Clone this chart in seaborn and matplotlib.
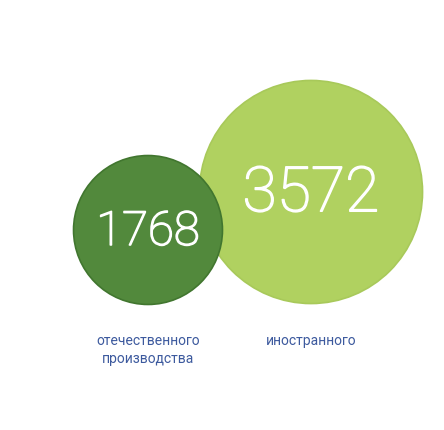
import numpy as np
import pandas as pd
import matplotlib.pyplot as plt
import matplotlib.patheffects as pe
import seaborn as sns

# data
categories = ['отечественного\nпроизводства', 'иностранного']
values = [1768, 3572]
colors = ['#52893c', '#b0d160']
edges = ['#41762f', '#a8c95a']

# layout (figure pixel coords, y down)
centers_x = [148, 311]
centers_y = [231, 193]
label_y = 334

df = pd.DataFrame({'cat': categories, 'value': values,
                   'x': centers_x, 'y': centers_y})

sns.set_style('white')
plt.rcParams['font.family'] = ['Roboto', 'DejaVu Sans']

fig = plt.figure(figsize=(4.44, 4.31), dpi=100)
ax = fig.add_axes([0, 0, 1, 1])

# bigger bubble first so the smaller one sits in front
order = df.sort_values('value', ascending=False)
sns.scatterplot(data=order, x='x', y='y', hue='cat', size='value',
                sizes=(11500, 25800), palette=dict(zip(categories, colors)),
                edgecolor=[edges[categories.index(c)] for c in order['cat']],
                linewidth=1.2, alpha=1, legend=False, ax=ax)

for i, row in df.iterrows():
    fs = 34 if row['value'] == min(values) else 45
    ax.text(row['x'], row['y'] + 2, str(row['value']), color='white',
            fontsize=fs, fontweight='light', ha='center', va='center',
            path_effects=[pe.withStroke(linewidth=1.1, foreground='white')])
    ax.text(row['x'], label_y, row['cat'], color='#3d5a9e', fontsize=10,
            ha='center', va='top', linespacing=1.4)

ax.set_xlim(0, 444)
ax.set_ylim(431, 0)
ax.set_axis_off()
ax.set_xlabel('')
ax.set_ylabel('')

plt.savefig('out.png', dpi=100)
